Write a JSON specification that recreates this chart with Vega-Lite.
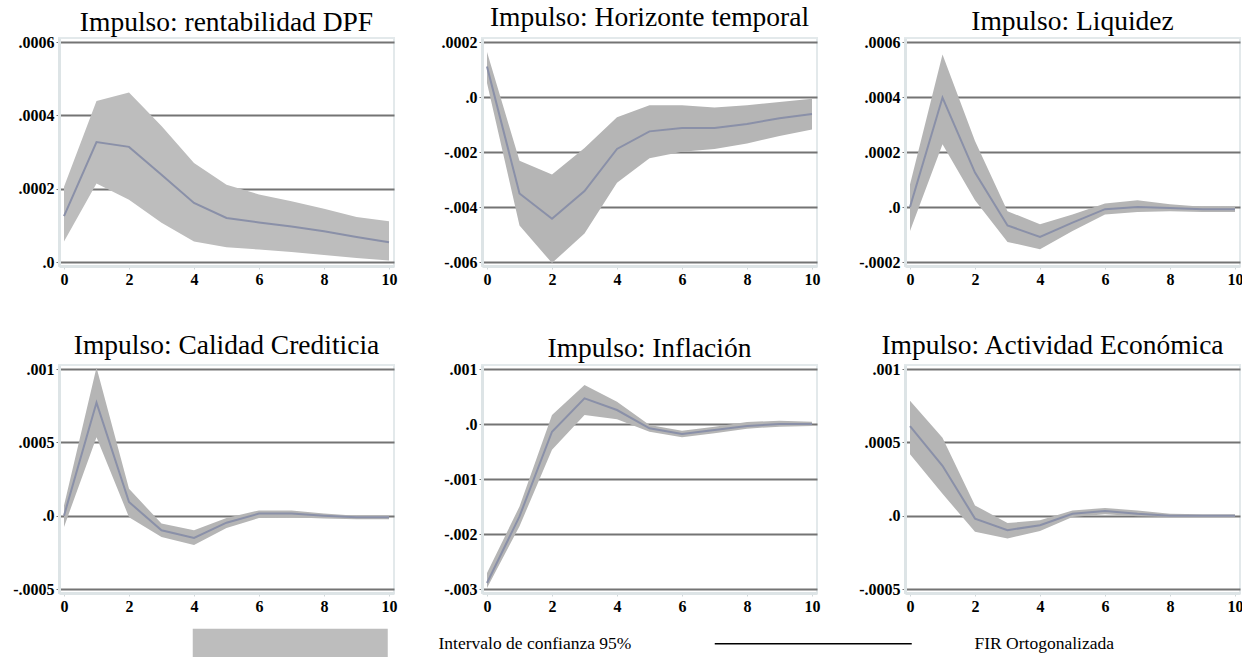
{
  "$schema": "https://vega.github.io/schema/vega-lite/v6.json",
  "background": "white",
  "padding": {"left": 11, "top": 2, "right": 0, "bottom": 0},
  "datasets": {
    "irf": [
      {"panel": "rentabilidad DPF", "h": 0, "irf": 0.000125, "lo": 0.000056, "hi": 0.000205},
      {"panel": "rentabilidad DPF", "h": 1, "irf": 0.000327, "lo": 0.000214, "hi": 0.000439},
      {"panel": "rentabilidad DPF", "h": 2, "irf": 0.000314, "lo": 0.00017, "hi": 0.000462},
      {"panel": "rentabilidad DPF", "h": 3, "irf": 0.000238, "lo": 0.000107, "hi": 0.000371},
      {"panel": "rentabilidad DPF", "h": 4, "irf": 0.000161, "lo": 0.000056, "hi": 0.00027},
      {"panel": "rentabilidad DPF", "h": 5, "irf": 0.00012, "lo": 0.00004, "hi": 0.000211},
      {"panel": "rentabilidad DPF", "h": 6, "irf": 0.000108, "lo": 0.000034, "hi": 0.000184},
      {"panel": "rentabilidad DPF", "h": 7, "irf": 0.000097, "lo": 0.000027, "hi": 0.000166},
      {"panel": "rentabilidad DPF", "h": 8, "irf": 0.000084, "lo": 0.000019, "hi": 0.000145},
      {"panel": "rentabilidad DPF", "h": 9, "irf": 0.000068, "lo": 0.000011, "hi": 0.000123},
      {"panel": "rentabilidad DPF", "h": 10, "irf": 0.000054, "lo": 0.000004, "hi": 0.000111},
      {"panel": "Horizonte temporal", "h": 0, "irf": 0.00111, "lo": 0.00051, "hi": 0.00164},
      {"panel": "Horizonte temporal", "h": 1, "irf": -0.00351, "lo": -0.00467, "hi": -0.00232},
      {"panel": "Horizonte temporal", "h": 2, "irf": -0.00443, "lo": -0.00604, "hi": -0.00282},
      {"panel": "Horizonte temporal", "h": 3, "irf": -0.00342, "lo": -0.00496, "hi": -0.00185},
      {"panel": "Horizonte temporal", "h": 4, "irf": -0.00189, "lo": -0.00312, "hi": -0.00074},
      {"panel": "Horizonte temporal", "h": 5, "irf": -0.00125, "lo": -0.00223, "hi": -0.0003},
      {"panel": "Horizonte temporal", "h": 6, "irf": -0.00113, "lo": -0.00199, "hi": -0.0003},
      {"panel": "Horizonte temporal", "h": 7, "irf": -0.00113, "lo": -0.00189, "hi": -0.00038},
      {"panel": "Horizonte temporal", "h": 8, "irf": -0.00098, "lo": -0.00169, "hi": -0.0003},
      {"panel": "Horizonte temporal", "h": 9, "irf": -0.00077, "lo": -0.00142, "hi": -0.00018},
      {"panel": "Horizonte temporal", "h": 10, "irf": -0.00062, "lo": -0.00118, "hi": -0.00006},
      {"panel": "Liquidez", "h": 0, "irf": 0.0, "lo": -0.000087, "hi": 0.000082},
      {"panel": "Liquidez", "h": 1, "irf": 0.000398, "lo": 0.000228, "hi": 0.000555},
      {"panel": "Liquidez", "h": 2, "irf": 0.000125, "lo": 0.000025, "hi": 0.00024},
      {"panel": "Liquidez", "h": 3, "irf": -0.000067, "lo": -0.000127, "hi": -0.000015},
      {"panel": "Liquidez", "h": 4, "irf": -0.000109, "lo": -0.000154, "hi": -0.000063},
      {"panel": "Liquidez", "h": 5, "irf": -0.000057, "lo": -0.000087, "hi": -0.000027},
      {"panel": "Liquidez", "h": 6, "irf": -0.000008, "lo": -0.000027, "hi": 0.000013},
      {"panel": "Liquidez", "h": 7, "irf": 0.0, "lo": -0.000018, "hi": 0.000025},
      {"panel": "Liquidez", "h": 8, "irf": -0.000004, "lo": -0.000015, "hi": 0.00001},
      {"panel": "Liquidez", "h": 9, "irf": -0.000008, "lo": -0.000018, "hi": 0.000001},
      {"panel": "Liquidez", "h": 10, "irf": -0.000008, "lo": -0.000018, "hi": 0.0},
      {"panel": "Calidad Crediticia", "h": 0, "irf": 0.0, "lo": -0.000077, "hi": 0.00007},
      {"panel": "Calidad Crediticia", "h": 1, "irf": 0.000771, "lo": 0.000534, "hi": 0.00101},
      {"panel": "Calidad Crediticia", "h": 2, "irf": 0.000093, "lo": -0.00001, "hi": 0.000183},
      {"panel": "Calidad Crediticia", "h": 3, "irf": -0.0001, "lo": -0.000145, "hi": -0.000054},
      {"panel": "Calidad Crediticia", "h": 4, "irf": -0.000152, "lo": -0.0002, "hi": -0.0001},
      {"panel": "Calidad Crediticia", "h": 5, "irf": -0.000048, "lo": -0.000084, "hi": -0.000016},
      {"panel": "Calidad Crediticia", "h": 6, "irf": 0.000014, "lo": -0.000016, "hi": 0.000036},
      {"panel": "Calidad Crediticia", "h": 7, "irf": 0.000014, "lo": -0.00001, "hi": 0.000036},
      {"panel": "Calidad Crediticia", "h": 8, "irf": 0.0, "lo": -0.00002, "hi": 0.000014},
      {"panel": "Calidad Crediticia", "h": 9, "irf": -0.00001, "lo": -0.000025, "hi": 0.0},
      {"panel": "Calidad Crediticia", "h": 10, "irf": -0.00001, "lo": -0.000025, "hi": 0.0},
      {"panel": "Inflación", "h": 0, "irf": -0.00289, "lo": -0.00298, "hi": -0.00271},
      {"panel": "Inflación", "h": 1, "irf": -0.00168, "lo": -0.00186, "hi": -0.0015},
      {"panel": "Inflación", "h": 2, "irf": -0.00014, "lo": -0.00047, "hi": 0.000163},
      {"panel": "Inflación", "h": 3, "irf": 0.000465, "lo": 0.000163, "hi": 0.000707},
      {"panel": "Inflación", "h": 4, "irf": 0.000254, "lo": 0.000085, "hi": 0.000405},
      {"panel": "Inflación", "h": 5, "irf": -0.000079, "lo": -0.000139, "hi": -0.000018},
      {"panel": "Inflación", "h": 6, "irf": -0.000181, "lo": -0.000242, "hi": -0.000121},
      {"panel": "Inflación", "h": 7, "irf": -0.000109, "lo": -0.000169, "hi": -0.000048},
      {"panel": "Inflación", "h": 8, "irf": -0.000036, "lo": -0.000085, "hi": 0.000036},
      {"panel": "Inflación", "h": 9, "irf": 0.0, "lo": -0.000048, "hi": 0.00006},
      {"panel": "Inflación", "h": 10, "irf": 0.0, "lo": -0.000036, "hi": 0.000042},
      {"panel": "Actividad Económica", "h": 0, "irf": 0.00061, "lo": 0.000419, "hi": 0.000784},
      {"panel": "Actividad Económica", "h": 1, "irf": 0.00034, "lo": 0.000149, "hi": 0.000532},
      {"panel": "Actividad Económica", "h": 2, "irf": -0.00002, "lo": -0.00011, "hi": 0.00007},
      {"panel": "Actividad Económica", "h": 3, "irf": -0.000099, "lo": -0.000155, "hi": -0.00005},
      {"panel": "Actividad Económica", "h": 4, "irf": -0.000065, "lo": -0.000104, "hi": -0.000032},
      {"panel": "Actividad Económica", "h": 5, "irf": 0.0000135, "lo": -0.000009, "hi": 0.000036},
      {"panel": "Actividad Económica", "h": 6, "irf": 0.000032, "lo": 0.000009, "hi": 0.000052},
      {"panel": "Actividad Económica", "h": 7, "irf": 0.0000135, "lo": -0.0000045, "hi": 0.000036},
      {"panel": "Actividad Económica", "h": 8, "irf": 0.0, "lo": -0.000009, "hi": 0.0000135},
      {"panel": "Actividad Económica", "h": 9, "irf": 0.0, "lo": -0.000009, "hi": 0.000009},
      {"panel": "Actividad Económica", "h": 10, "irf": 0.0, "lo": -0.000009, "hi": 0.000009}
    ]
  },
  "data": {"name": "irf"},
  "columns": 3,
  "spacing": {"row": 99, "column": 88},
  "bounds": "flush",
  "resolve": {"scale": {"fill": "shared", "stroke": "shared"}, "legend": {"fill": "shared", "stroke": "shared"}},
  "concat": [
    {
      "width": 335, "height": 228,
      "title": {"text": "Impulso: rentabilidad DPF", "offset": -2, "font": "Liberation Serif"},
      "transform": [{"filter": "datum.panel === 'rentabilidad DPF'"}],
      "encoding": {"x": {"field": "h", "type": "quantitative", "scale": {"domain": [0, 10], "nice": false, "zero": false, "padding": 5}, "axis": {"values": [0, 2, 4, 6, 8, 10]}}},
      "layer": [
        {"mark": {"type": "area", "opacity": 1},
         "encoding": {
           "y": {"field": "lo", "type": "quantitative", "scale": {"domain": [0, 0.0006], "nice": false, "zero": false, "padding": 4}, "axis": {"values": [0, 0.0002, 0.0004, 0.0006], "labelExpr": "datum.value == 0 ? '.0' : (datum.value < 0 ? '-' : '') + slice(format(abs(datum.value), '.4~f'), 1)"}},
           "y2": {"field": "hi"},
           "fill": {"datum": "Intervalo de confianza 95%", "type": "nominal", "scale": {"range": ["#bdbdbd"]},
             "legend": {"title": null, "orient": "none", "legendX": 222.5, "legendY": 597, "padding": 0, "symbolType": "M-97.5,-15H97.5V15H-97.5Z", "symbolSize": 4, "symbolStrokeWidth": 0, "symbolOpacity": 1, "labelFont": "Liberation Serif", "labelFontSize": 17.5, "labelFontWeight": "normal", "labelColor": "black", "labelOffset": 139.5, "labelLimit": 400}}
         }},
        {"mark": {"type": "line", "strokeWidth": 2, "stroke": "#8a90a8"},
         "encoding": {
           "y": {"field": "irf", "type": "quantitative", "scale": {"domain": [0, 0.0006], "nice": false, "zero": false, "padding": 4}, "axis": {"values": [0, 0.0002, 0.0004, 0.0006], "labelExpr": "datum.value == 0 ? '.0' : (datum.value < 0 ? '-' : '') + slice(format(abs(datum.value), '.4~f'), 1)"}}
         }},
        {"transform": [{"filter": "false"}],
         "mark": {"type": "line", "strokeWidth": 1.5},
         "encoding": {
           "y": {"field": "irf", "type": "quantitative", "scale": {"domain": [0, 0.0006], "nice": false, "zero": false, "padding": 4}, "axis": {"values": [0, 0.0002, 0.0004, 0.0006], "labelExpr": "datum.value == 0 ? '.0' : (datum.value < 0 ? '-' : '') + slice(format(abs(datum.value), '.4~f'), 1)"}},
           "stroke": {"datum": "FIR Ortogonalizada", "type": "nominal", "scale": {"range": ["black"]},
             "legend": {"title": null, "orient": "none", "legendX": 745.5, "legendY": 597, "padding": 0, "symbolType": "M-98.5,0H98.5", "symbolSize": 4, "symbolStrokeWidth": 1.5, "labelFont": "Liberation Serif", "labelFontSize": 17.5, "labelFontWeight": "normal", "labelColor": "black", "labelOffset": 152.5, "labelLimit": 400}}
         }}
      ]
    },
    {
      "width": 335, "height": 228,
      "title": {"text": "Impulso: Horizonte temporal", "offset": 3, "font": "Liberation Serif"},
      "transform": [{"filter": "datum.panel === 'Horizonte temporal'"}],
      "encoding": {"x": {"field": "h", "type": "quantitative", "scale": {"domain": [0, 10], "nice": false, "zero": false, "padding": 5}, "axis": {"values": [0, 2, 4, 6, 8, 10]}}},
      "layer": [
        {"mark": {"type": "area", "opacity": 1, "fill": "#b5b5b5"},
         "encoding": {
           "y": {"field": "lo", "type": "quantitative", "scale": {"domain": [-0.006, 0.002], "nice": false, "zero": false, "padding": 4}, "axis": {"values": [-0.006, -0.004, -0.002, 0, 0.002], "labelExpr": "datum.value > 0.0015 ? '.0002' : datum.value == 0 ? '.0' : (datum.value < 0 ? '-' : '') + slice(format(abs(datum.value), '.4~f'), 1)"}},
           "y2": {"field": "hi"}
         }},
        {"mark": {"type": "line", "strokeWidth": 2, "stroke": "#8a90a8"},
         "encoding": {
           "y": {"field": "irf", "type": "quantitative", "scale": {"domain": [-0.006, 0.002], "nice": false, "zero": false, "padding": 4}, "axis": {"values": [-0.006, -0.004, -0.002, 0, 0.002], "labelExpr": "datum.value > 0.0015 ? '.0002' : datum.value == 0 ? '.0' : (datum.value < 0 ? '-' : '') + slice(format(abs(datum.value), '.4~f'), 1)"}}
         }}
      ]
    },
    {
      "width": 335, "height": 228,
      "title": {"text": "Impulso: Liquidez", "offset": -1, "font": "Liberation Serif"},
      "transform": [{"filter": "datum.panel === 'Liquidez'"}],
      "encoding": {"x": {"field": "h", "type": "quantitative", "scale": {"domain": [0, 10], "nice": false, "zero": false, "padding": 5}, "axis": {"values": [0, 2, 4, 6, 8, 10]}}},
      "layer": [
        {"mark": {"type": "area", "opacity": 1, "fill": "#b5b5b5"},
         "encoding": {
           "y": {"field": "lo", "type": "quantitative", "scale": {"domain": [-0.0002, 0.0006], "nice": false, "zero": false, "padding": 4}, "axis": {"values": [-0.0002, 0, 0.0002, 0.0004, 0.0006], "labelExpr": "datum.value == 0 ? '.0' : (datum.value < 0 ? '-' : '') + slice(format(abs(datum.value), '.4~f'), 1)"}},
           "y2": {"field": "hi"}
         }},
        {"mark": {"type": "line", "strokeWidth": 2, "stroke": "#8a90a8"},
         "encoding": {
           "y": {"field": "irf", "type": "quantitative", "scale": {"domain": [-0.0002, 0.0006], "nice": false, "zero": false, "padding": 4}, "axis": {"values": [-0.0002, 0, 0.0002, 0.0004, 0.0006], "labelExpr": "datum.value == 0 ? '.0' : (datum.value < 0 ? '-' : '') + slice(format(abs(datum.value), '.4~f'), 1)"}}
         }}
      ]
    },
    {
      "width": 335, "height": 228,
      "title": {"text": "Impulso: Calidad Crediticia", "offset": 2, "font": "Liberation Serif"},
      "transform": [{"filter": "datum.panel === 'Calidad Crediticia'"}],
      "encoding": {"x": {"field": "h", "type": "quantitative", "scale": {"domain": [0, 10], "nice": false, "zero": false, "padding": 5}, "axis": {"values": [0, 2, 4, 6, 8, 10]}}},
      "layer": [
        {"mark": {"type": "area", "opacity": 1, "fill": "#b5b5b5"},
         "encoding": {
           "y": {"field": "lo", "type": "quantitative", "scale": {"domain": [-0.0005, 0.001], "nice": false, "zero": false, "padding": 4}, "axis": {"values": [-0.0005, 0, 0.0005, 0.001], "labelExpr": "datum.value == 0 ? '.0' : (datum.value < 0 ? '-' : '') + slice(format(abs(datum.value), '.4~f'), 1)"}},
           "y2": {"field": "hi"}
         }},
        {"mark": {"type": "line", "strokeWidth": 2, "stroke": "#8a90a8"},
         "encoding": {
           "y": {"field": "irf", "type": "quantitative", "scale": {"domain": [-0.0005, 0.001], "nice": false, "zero": false, "padding": 4}, "axis": {"values": [-0.0005, 0, 0.0005, 0.001], "labelExpr": "datum.value == 0 ? '.0' : (datum.value < 0 ? '-' : '') + slice(format(abs(datum.value), '.4~f'), 1)"}}
         }}
      ]
    },
    {
      "width": 335, "height": 228,
      "title": {"text": "Impulso: Inflación", "offset": -1, "font": "Liberation Serif"},
      "transform": [{"filter": "datum.panel === 'Inflación'"}],
      "encoding": {"x": {"field": "h", "type": "quantitative", "scale": {"domain": [0, 10], "nice": false, "zero": false, "padding": 5}, "axis": {"values": [0, 2, 4, 6, 8, 10]}}},
      "layer": [
        {"mark": {"type": "area", "opacity": 1, "fill": "#b5b5b5"},
         "encoding": {
           "y": {"field": "lo", "type": "quantitative", "scale": {"domain": [-0.003, 0.001], "nice": false, "zero": false, "padding": 4}, "axis": {"values": [-0.003, -0.002, -0.001, 0, 0.001], "labelExpr": "datum.value == 0 ? '.0' : (datum.value < 0 ? '-' : '') + slice(format(abs(datum.value), '.4~f'), 1)"}},
           "y2": {"field": "hi"}
         }},
        {"mark": {"type": "line", "strokeWidth": 2, "stroke": "#8a90a8"},
         "encoding": {
           "y": {"field": "irf", "type": "quantitative", "scale": {"domain": [-0.003, 0.001], "nice": false, "zero": false, "padding": 4}, "axis": {"values": [-0.003, -0.002, -0.001, 0, 0.001], "labelExpr": "datum.value == 0 ? '.0' : (datum.value < 0 ? '-' : '') + slice(format(abs(datum.value), '.4~f'), 1)"}}
         }}
      ]
    },
    {
      "width": 335, "height": 228,
      "title": {"text": "Impulso: Actividad Económica", "offset": 2, "dx": -20, "font": "Liberation Serif"},
      "transform": [{"filter": "datum.panel === 'Actividad Económica'"}],
      "encoding": {"x": {"field": "h", "type": "quantitative", "scale": {"domain": [0, 10], "nice": false, "zero": false, "padding": 5}, "axis": {"values": [0, 2, 4, 6, 8, 10]}}},
      "layer": [
        {"mark": {"type": "area", "opacity": 1, "fill": "#b5b5b5"},
         "encoding": {
           "y": {"field": "lo", "type": "quantitative", "scale": {"domain": [-0.0005, 0.001], "nice": false, "zero": false, "padding": 4}, "axis": {"values": [-0.0005, 0, 0.0005, 0.001], "labelExpr": "datum.value == 0 ? '.0' : (datum.value < 0 ? '-' : '') + slice(format(abs(datum.value), '.4~f'), 1)"}},
           "y2": {"field": "hi"}
         }},
        {"mark": {"type": "line", "strokeWidth": 2, "stroke": "#8a90a8"},
         "encoding": {
           "y": {"field": "irf", "type": "quantitative", "scale": {"domain": [-0.0005, 0.001], "nice": false, "zero": false, "padding": 4}, "axis": {"values": [-0.0005, 0, 0.0005, 0.001], "labelExpr": "datum.value == 0 ? '.0' : (datum.value < 0 ? '-' : '') + slice(format(abs(datum.value), '.4~f'), 1)"}}
         }}
      ]
    }
  ],
  "config": {
    "font": "Liberation Serif",
    "view": {"stroke": "#e3e9eb", "strokeWidth": 2},
    "axis": {"labelFont": "Liberation Serif", "labelFontWeight": "bold", "labelFontSize": 16, "labelColor": "black", "title": null, "domainColor": "#dde4e6", "domainWidth": 3, "tickColor": "#cfd6d8", "tickSize": 3, "labelPadding": 2},
    "axisY": {"grid": true, "gridColor": "#747474", "gridWidth": 1.8, "tickColor": "#747474", "zindex": 1},
    "axisX": {"grid": false},
    "title": {"font": "Liberation Serif", "fontSize": 27.5, "fontWeight": "normal", "color": "black", "anchor": "middle", "frame": "group", "baseline": "alphabetic"},
    "style": {"group-title": {"font": "Liberation Serif"}}
  }
}
